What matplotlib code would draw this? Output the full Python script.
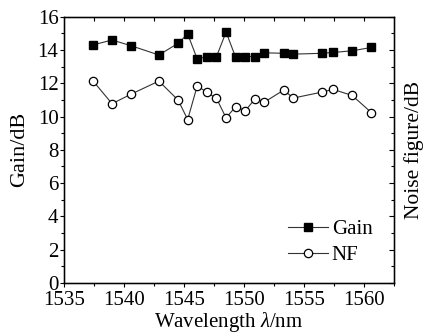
import matplotlib
matplotlib.use("Agg")
import matplotlib.pyplot as plt
from matplotlib.ticker import MultipleLocator

plt.rcParams['font.family'] = ['Liberation Serif', 'DejaVu Serif']
plt.rcParams['mathtext.fontset'] = 'custom'
plt.rcParams['mathtext.it'] = 'Liberation Serif:italic'
plt.rcParams['mathtext.rm'] = 'Liberation Serif'

wavelength = [1537.4, 1539.0, 1540.6, 1542.9, 1544.5, 1545.3, 1546.1, 1546.9, 1547.7, 1548.5,
              1549.3, 1550.1, 1550.9, 1551.7, 1553.3, 1554.1, 1556.5, 1557.4, 1559.0, 1560.6]
gain = [14.3, 14.6, 14.25, 13.7, 14.4, 14.96, 13.45, 13.6, 13.6, 15.08,
        13.55, 13.6, 13.6, 13.83, 13.8, 13.75, 13.8, 13.85, 13.95, 14.15]
nf = [12.15, 10.77, 11.35, 12.13, 10.99, 9.82, 11.85, 11.45, 11.09, 9.92,
      10.6, 10.35, 11.05, 10.87, 11.59, 11.11, 11.47, 11.63, 11.27, 10.24]
yticks = [0, 2, 4, 6, 8, 10, 12, 14, 16]
xticks = [1535, 1540, 1545, 1550, 1555, 1560]

fig = plt.figure(figsize=(4.27, 3.34), dpi=100)
ax = fig.add_axes([0.150, 0.153, 0.773, 0.797])

ax.plot(wavelength, gain, '-', color='#333333', lw=0.8, marker='s', ms=5.5,
        mfc='black', mec='black', label='Gain')
ax.plot(wavelength, nf, '-', color='#333333', lw=0.8, marker='o', ms=6,
        mfc='white', mec='black', mew=0.9, label='NF')

ax.set_xlim(1535, 1562.5)
ax.set_ylim(0, 16)
ax.set_xticks(xticks)
ax.set_yticks(yticks)
ax.xaxis.set_minor_locator(MultipleLocator(2.5))
ax.yaxis.set_minor_locator(MultipleLocator(1))
ax.tick_params(axis='both', which='major', direction='out', length=3, width=0.8,
               labelsize=15, top=False, right=False)
ax.tick_params(axis='y', which='major', pad=1)
ax.tick_params(axis='x', which='major', pad=3)
ax.tick_params(axis='both', which='minor', direction='out', length=2, width=0.8,
               top=False, right=False)
for s in ax.spines.values():
    s.set_linewidth(1.0)

ax2 = ax.twinx()
ax2.set_ylim(0, 16)
ax2.set_yticks(yticks)
ax2.yaxis.set_minor_locator(MultipleLocator(1))
ax2.tick_params(axis='y', which='major', direction='in', length=3.5, width=0.8, labelright=False)
ax2.tick_params(axis='y', which='minor', direction='in', length=2, width=0.8)
ax2.set_ylabel('Noise figure/dB', fontsize=15.5, labelpad=4)

ax3 = ax.twiny()
ax3.set_xlim(1535, 1562.5)
ax3.set_xticks([1537.5 + 2.5 * i for i in range(10)])
ax3.tick_params(axis='x', which='major', direction='in', length=3, width=0.8, labeltop=False)

ax.set_xlabel(r'Wavelength $\mathit{\lambda}$/nm', fontsize=15, labelpad=0)
ax.set_ylabel('Gain/dB', fontsize=16, labelpad=6)

ax.legend(loc='lower right', bbox_to_anchor=(0.96, 0.035), frameon=False, fontsize=15,
          handlelength=1.9, handletextpad=0.2, labelspacing=0.3, borderaxespad=0)

fig.savefig('out.png', dpi=100)
